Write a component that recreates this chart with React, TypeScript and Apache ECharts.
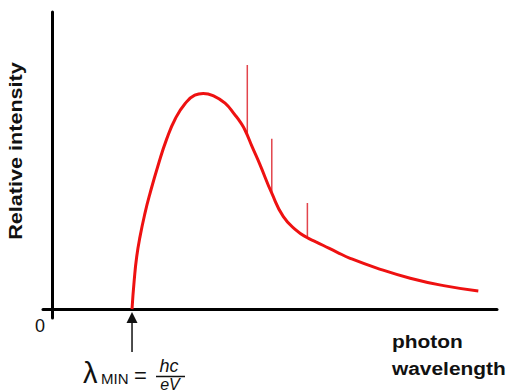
import { useEffect, useRef } from "react";
import * as echarts from "echarts";

// photon wavelength (arbitrary units) and relative intensity of the continuous spectrum
const wavelength = [18.0, 18.5, 19.05, 19.8, 20.9, 22.0, 23.9, 25.8, 27.7, 29.9, 32.1, 34.0, 36.3, 38.9, 41.1, 42.3, 43.4, 45.0, 46.7, 49.4, 52.0, 55.0, 57.3, 59.2, 61.0, 64.0, 67.0, 73.0, 80.5, 88.0, 95.8];
const intensity = [0, 9.8, 17.6, 24.4, 32.2, 38.7, 48.6, 57.3, 64.0, 69.1, 72.0, 72.6, 71.8, 69.3, 65.4, 63.0, 60.2, 54.6, 48.8, 39.0, 31.1, 26.4, 24.1, 22.7, 21.4, 19.2, 17.1, 13.8, 10.4, 7.9, 6.1];

// characteristic lines
const lineWavelength = [43.9, 49.4, 57.4];
const lineBase = [58.6, 39.0, 24.1];
const lineTop = [82.2, 57.3, 35.7];

const lambdaMin = 18.0;

export default function App() {
  const ref = useRef<HTMLDivElement>(null);
  useEffect(() => {
    const chart = echarts.init(ref.current!, null, { renderer: "svg" });
    const curve = wavelength.map((w, i) => [w, intensity[i]]);
    const spikes = lineWavelength.map((w, i) => ({
      type: "line",
      data: [
        [w, lineBase[i]],
        [w, lineTop[i]],
      ],
      symbol: "none",
      lineStyle: { color: "#e2444c", width: 1.5 },
      z: 2,
    }));
    chart.setOption({
      animation: false,
      grid: { left: 43, right: 11, top: 12, bottom: 74 },
      xAxis: {
        type: "value",
        min: -2,
        max: 100,
        axisLine: { onZero: true, lineStyle: { color: "#000", width: 3 } },
        axisTick: { show: false },
        axisLabel: { show: false },
        splitLine: { show: false },
      },
      yAxis: {
        type: "value",
        min: -3,
        max: 100,
        axisLine: { show: true, onZero: true, lineStyle: { color: "#000", width: 3 } },
        axisTick: { show: false },
        axisLabel: { show: false },
        splitLine: { show: false },
      },
      series: [
        {
          type: "line",
          data: curve,
          smooth: 0.5,
          symbol: "none",
          lineStyle: { color: "#ee1111", width: 3 },
          z: 3,
        },
        ...spikes,
      ],
    });
    const [ax, ay] = chart.convertToPixel({ gridIndex: 0 }, [lambdaMin, 0]) as number[];
    const font = '"Liberation Sans", Arial, sans-serif';
    chart.setOption({
      graphic: [
        {
          type: "text",
          x: 16,
          y: 151,
          rotation: Math.PI / 2,
          scaleX: 1.2,
          style: {
            text: "Relative intensity",
            font: `bold 18px ${font}`,
            fill: "#111",
            align: "center",
            verticalAlign: "middle",
          },
        },
        {
          type: "text",
          x: 40,
          y: 326,
          style: { text: "0", font: `18px ${font}`, fill: "#111", align: "center", verticalAlign: "middle" },
        },
        {
          type: "text",
          x: 392,
          y: 341,
          scaleX: 1.1,
          style: { text: "photon", font: `bold 19px ${font}`, fill: "#111", align: "left", verticalAlign: "middle" },
        },
        {
          type: "text",
          x: 392,
          y: 368,
          scaleX: 1.1,
          style: { text: "wavelength", font: `bold 19px ${font}`, fill: "#111", align: "left", verticalAlign: "middle" },
        },
        {
          type: "line",
          shape: { x1: ax, y1: 352, x2: ax, y2: ay + 12 },
          style: { stroke: "#111", lineWidth: 1.5 },
        },
        {
          type: "polygon",
          shape: { points: [[ax, ay + 3], [ax - 5.5, ay + 14], [ax + 5.5, ay + 14]] },
          style: { fill: "#111" },
        },
        {
          type: "text",
          x: 83,
          y: 373,
          style: { text: "λ", font: `29px ${font}`, fill: "#111", align: "left", verticalAlign: "middle" },
        },
        {
          type: "text",
          x: 101,
          y: 378,
          style: { text: "MIN", font: `15px ${font}`, fill: "#111", align: "left", verticalAlign: "middle" },
        },
        {
          type: "text",
          x: 134,
          y: 375,
          style: { text: "=", font: `22px ${font}`, fill: "#111", align: "left", verticalAlign: "middle" },
        },
        {
          type: "text",
          x: 169,
          y: 366,
          style: { text: "hc", font: `italic 18px ${font}`, fill: "#111", align: "center", verticalAlign: "middle" },
        },
        {
          type: "line",
          shape: { x1: 156, y1: 376.5, x2: 185, y2: 376.5 },
          style: { stroke: "#111", lineWidth: 1.5 },
        },
        {
          type: "text",
          x: 170,
          y: 392,
          style: { text: "eV", font: `italic 16px ${font}`, fill: "#111", align: "center", verticalAlign: "bottom" },
        },
      ],
    });
    return () => chart.dispose();
  }, []);
  return <div ref={ref} style={{ position: "absolute", left: 0, top: 0, width: 508, height: 392 }} />;
}
